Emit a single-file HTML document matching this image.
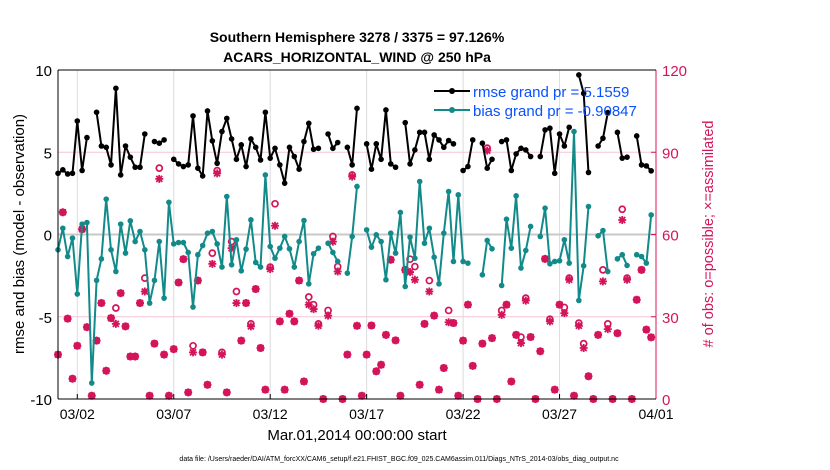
<!DOCTYPE html>
<html><head><meta charset="utf-8"><style>
body{margin:0;background:#fff;}
svg{display:block;font-family:"Liberation Sans",sans-serif;}
</style></head><body>
<svg id="chart" width="830" height="470" viewBox="0 0 830 470">
<g id="grid"></g>
<g id="marks"></g>
<g id="axes"></g>
<text x="357" y="42" text-anchor="middle" font-size="14" font-weight="bold">Southern Hemisphere 3278 / 3375 = 97.126%</text>
<text x="357" y="62" text-anchor="middle" font-size="14" font-weight="bold">ACARS_HORIZONTAL_WIND @ 250 hPa</text>
<text transform="translate(24,234) rotate(-90)" text-anchor="middle" font-size="15">rmse and bias (model - observation)</text>
<text transform="translate(713,234) rotate(-90)" text-anchor="middle" font-size="14.5" fill="#d4145a"># of obs: o=possible; ×=assimilated</text>
<text x="357" y="440" text-anchor="middle" font-size="15">Mar.01,2014 00:00:00 start</text>
<text x="399" y="461" text-anchor="middle" font-size="7">data file: /Users/raeder/DAI/ATM_forcXX/CAM6_setup/f.e21.FHIST_BGC.f09_025.CAM6assim.011/Diags_NTrS_2014-03/obs_diag_output.nc</text>
<g>
<line x1="434" y1="91" x2="470" y2="91" stroke="#000" stroke-width="2"/>
<circle cx="452" cy="91" r="3" fill="#000"/>
<text x="473" y="97" font-size="15" fill="#0a50ff">rmse grand pr = 5.1559</text>
<line x1="434" y1="110" x2="470" y2="110" stroke="#138a8a" stroke-width="2"/>
<circle cx="452" cy="110" r="3" fill="#138a8a"/>
<text x="473" y="116" font-size="15" fill="#0a50ff">bias grand pr = -0.90847</text>
</g>
</svg>
<script>
const N=null;
const rmse=[3.72,3.93,3.68,3.72,6.90,3.89,5.89,N,7.43,5.38,5.30,4.23,8.89,3.62,5.38,4.70,4.09,4.09,6.11,N,5.65,5.55,5.75,N,4.57,4.29,4.13,4.23,7.21,4.03,3.56,7.51,5.69,4.33,6.26,7.06,5.81,4.57,5.45,4.13,5.81,5.30,4.53,7.43,4.64,5.24,4.23,3.12,5.30,4.74,3.97,5.65,6.76,5.18,5.24,N,6.11,5.24,5.59,N,5.30,4.23,7.67,N,5.51,3.97,5.51,4.57,7.57,4.29,4.09,N,6.80,4.29,5.14,6.21,6.21,4.57,6.05,5.75,5.30,5.71,5.51,N,3.89,4.13,5.75,N,5.55,4.03,4.57,N,5.65,5.75,3.89,4.90,5.24,5.14,4.74,N,4.74,6.36,6.46,3.72,6.11,5.38,6.52,N,9.70,8.58,3.77,N,5.38,5.85,7.41,N,6.21,4.64,4.70,N,5.99,4.23,4.17,3.87];
const bias=[-0.93,0.38,-1.34,-0.22,-3.62,0.63,0.73,-9.03,-2.79,-1.48,2.15,-0.93,-2.25,0.63,-1.13,0.83,-0.43,0.18,-0.93,-4.17,-2.79,-0.43,-3.87,1.96,-0.57,-0.49,-0.49,-1.09,-4.41,-1.23,-0.67,0.08,0.18,-0.57,-1.98,2.31,-1.84,-0.32,-2.21,-0.89,0.89,-1.70,-1.98,3.62,-0.73,-1.44,-0.83,-0.12,-0.87,-1.98,-0.43,0.85,-3.00,-1.17,-0.83,N,-0.53,-1.09,-1.64,N,-2.35,-0.12,2.92,N,0.28,-0.77,-0.02,-0.43,-2.75,0.08,-1.13,1.34,-3.16,-0.16,-1.44,3.22,-0.53,0.38,-1.38,-3.00,0.08,2.61,-1.64,2.41,-1.64,-1.74,N,N,-2.45,-0.36,-0.87,N,-3.10,0.93,-0.83,2.35,-2.04,-0.97,0.49,N,-0.12,1.60,-1.78,-1.64,-1.60,-0.32,-1.74,6.26,-4.01,-1.90,1.70,N,-0.08,0.24,-2.25,N,-1.48,-1.23,-1.88,N,-1.23,-1.34,-1.74,1.19];
const nPoss=[16.2,68.1,29.3,7.4,19.4,61.9,26.2,1.2,21.3,35.0,10.3,29.5,33.2,38.6,26.5,15.5,15.5,35.0,44.1,1.2,20.2,84.2,16.2,1.2,18.2,42.5,51.0,2.4,19.4,43.2,17.0,5.2,53.2,83.3,17.0,2.4,57.4,39.2,21.3,35.0,27.4,40.1,18.6,3.4,48.1,71.2,28.3,3.4,31.1,28.3,43.2,6.4,37.2,34.4,27.4,0,32.3,59.3,48.3,0,16.2,81.7,26.7,1.2,16.2,26.8,10.1,12.5,23.4,50.8,21.4,1.2,47.1,51.0,48.3,5.2,27.4,43.2,30.4,3.4,11.3,32.3,27.7,1.2,21.3,34.4,12.1,0,20.2,91.5,22.2,0,32.3,34.4,6.4,23.4,22.6,36.8,22.6,0,17.4,51.1,29.1,3.4,34.4,33.4,44.1,1.2,27.7,20.2,8.3,0,23.4,47.1,27.4,0,24.0,69.2,44.1,0,36.2,47.1,25.3,22.5];
const nAssim=[16.2,68.1,29.3,7.4,19.4,61.9,26.2,1.2,21.3,35.0,10.3,29.5,27.4,38.6,26.5,15.5,15.5,35.0,39.2,1.2,20.2,80.3,16.2,1.2,18.2,42.5,51.0,2.4,17.0,43.2,17.0,5.2,49.3,82.3,16.2,2.4,55.0,35.0,21.3,35.0,26.5,40.1,18.6,3.4,47.4,63.2,28.3,3.4,31.1,28.3,43.2,6.4,34.4,32.8,26.7,0,30.4,57.4,46.5,0,16.2,81.1,26.7,1.2,16.2,26.8,10.1,12.5,23.4,50.8,21.4,1.2,47.1,46.3,43.5,5.2,27.4,39.2,30.4,3.4,11.3,28.0,27.7,1.2,21.3,34.4,12.1,0,20.2,90.6,22.2,0,30.7,34.4,6.4,23.4,20.4,35.9,22.6,0,17.4,51.1,28.3,3.4,34.4,31.3,43.5,1.2,26.7,18.6,8.3,0,23.4,42.9,25.5,0,24.0,65.3,43.5,0,36.2,47.1,25.3,22.5];
const xTickLabels=["03/02","03/07","03/12","03/17","03/22","03/27","04/01"];
const xTickDays=[1,6,11,16,21,26,31];
const yLeftTicks=[-10,-5,0,5,10];
const yRightTicks=[0,30,60,90,120];

const X0=58,X1=656,Y0=70,Y1=399;
const xDay=d=>X0+d*(X1-X0)/31;
const xIdx=i=>xDay(i*0.25);
const yL=v=>Y0+(10-v)*(Y1-Y0)/20;
const yR=n=>Y1-n*(Y1-Y0)/120;
const NS="http://www.w3.org/2000/svg";
function mk(tag,attrs,parent){const e=document.createElementNS(NS,tag);for(const k in attrs)e.setAttribute(k,attrs[k]);parent.appendChild(e);return e;}
const grid=document.getElementById('grid'),marks=document.getElementById('marks'),axes=document.getElementById('axes');

xTickDays.forEach((d,k)=>{
  const l=mk('line',{x1:xDay(d),x2:xDay(d),y1:Y0,y2:Y1,stroke:'#dcdcdc','stroke-width':1},grid);
  
  
  const t=mk('line',{x1:xDay(d),x2:xDay(d),y1:Y1,y2:Y1-5,stroke:'#000','stroke-width':1},axes);
  
  
  const tx=mk('text',{x:xDay(d),y:Y1+20,'text-anchor':'middle','font-size':14},axes);
  tx.textContent=xTickLabels[k];
  
  
});
yLeftTicks.forEach(v=>{
  if(v===5||v===-5){const g=mk('line',{x1:X0,x2:X1,y1:yL(v),y2:yL(v),stroke:'#f5c6d6','stroke-width':1},grid);
    
    }
  const tx=mk('text',{x:X0-6,y:yL(v)+6,'text-anchor':'end','font-size':15},axes);
  tx.textContent=String(v);
  
  
});
yRightTicks.forEach(n=>{
  const tx=mk('text',{x:X1+6,y:yR(n)+6,'text-anchor':'start','font-size':15,fill:'#d4145a'},axes);
  tx.textContent=String(n);
  
  
  const t=mk('line',{x1:X1,x2:X1-5,y1:yR(n),y2:yR(n),stroke:'#d4145a'},axes);
  
  
});
const zl=mk('line',{x1:X0,x2:X1,y1:yL(0),y2:yL(0),stroke:'#c8c8c8','stroke-width':2},grid);



const red='#d4145a';
nPoss.forEach((n,i)=>{
  const c=mk('circle',{cx:xIdx(i),cy:yR(n),r:3,fill:'none',stroke:red,'stroke-width':1.7},marks);
  
  
});
nAssim.forEach((n,i)=>{
  const x=xIdx(i),y=yR(nAssim[i]);
  const g=mk('path',{d:`M${x-4},${y}H${x+4}M${x},${y-4}V${y+4}M${x-3},${y-3}L${x+3},${y+3}M${x-3},${y+3}L${x+3},${y-3}`,stroke:red,'stroke-width':1.8},marks);
  
  
});

function series(vals,color,name){
  let d='',pen=false;
  vals.forEach((v,i)=>{if(v===null){pen=false;return;}d+=(pen?'L':'M')+xIdx(i).toFixed(1)+','+yL(v).toFixed(1);pen=true;});
  const p=mk('path',{d:d,fill:'none',stroke:color,'stroke-width':2,'stroke-linejoin':'round'},marks);
  
  
  vals.forEach((v,i)=>{if(v===null)return;
    const c=mk('circle',{cx:xIdx(i),cy:yL(v),r:2.8,fill:color},marks);
    
    });
}
series(bias,'#138a8a','bias');
series(rmse,'#000','rmse');

const la=mk('line',{x1:X0,x2:X0,y1:Y0,y2:Y1,stroke:'#000'},axes);


const ra=mk('line',{x1:X1,x2:X1,y1:Y0,y2:Y1,stroke:red},axes);


const ba=mk('line',{x1:X0,x2:X1,y1:Y1,y2:Y1,stroke:'#000'},axes);


const ta=mk('line',{x1:X0,x2:X1,y1:Y0,y2:Y0,stroke:'#000'},axes);


</script>
</body></html>
